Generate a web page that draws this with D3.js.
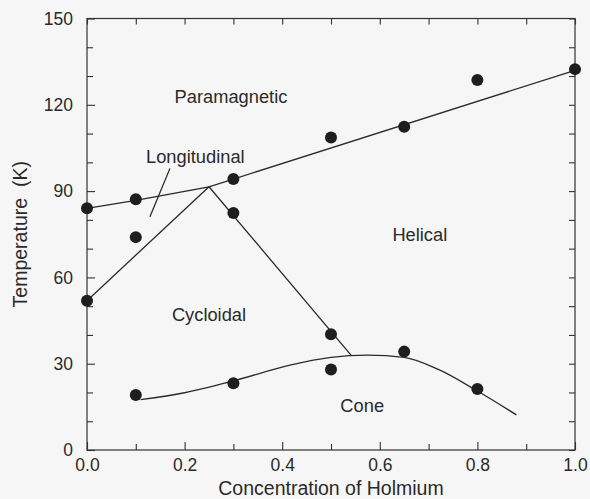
<!DOCTYPE html>
<html>
<head>
<meta charset="utf-8">
<script src="https://cdn.jsdelivr.net/npm/d3@7"></script>
<style>
  body { margin: 0; background: #f6f6f6; }
  svg { display: block; }
  text { font-family: "Liberation Sans", Arial, Helvetica, sans-serif; fill: #2a2a2a; }
  .axis path { display: none; }
  .axis line { stroke: #333; stroke-width: 1.1; }
  .axis text { font-size: 17.5px; }
</style>
</head>
<body>
<script>
//-----------------------------DATA------------------------------//
// measured transition temperatures (concentration, K)
const points = [
  [0.0, 84], [0.1, 87.2], [0.3, 94.2], [0.5, 108.6], [0.65, 112.4], [0.8, 128.6], [1.0, 132.4],
  [0.1, 74], [0.3, 82.4], [0.0, 51.9], [0.5, 40.2],
  [0.1, 19.1], [0.3, 23.2], [0.5, 28], [0.65, 34.2], [0.8, 21.2]
];
// phase boundary lines
const paraLine = [[0.0, 84], [0.1, 86.8], [0.25, 91.5], [1.0, 132]];
const cycloLine = [[0.0, 51.9], [0.25, 91.5], [0.541, 33]];
const coneLine = [[0.11, 17.5], [0.2, 19.9], [0.3, 24], [0.416, 29.5], [0.5, 32.2],
  [0.575, 33], [0.65, 32.2], [0.72, 28], [0.8, 20.5], [0.88, 12.2]];
const leader = [[0.170, 97.9], [0.129, 81.1]];
const phaseLabels = [
  { text: "Paramagnetic", x: 0.295, y: 120.6 },
  { text: "Longitudinal", x: 0.222, y: 99.8 },
  { text: "Helical", x: 0.682, y: 72.7 },
  { text: "Cycloidal", x: 0.25, y: 44.9 },
  { text: "Cone", x: 0.564, y: 13.3 }
];
const xMajor = [0, 0.2, 0.4, 0.6, 0.8, 1.0];
const xMinor = [0.1, 0.3, 0.5, 0.7, 0.9];
const yMajor = [0, 30, 60, 90, 120, 150];
const yMinor = [10, 20, 40, 50, 70, 80, 100, 110, 130, 140];

//----------------------------LAYOUT-----------------------------//
const W = 590, H = 499;
const margin = { left: 87, top: 18.5, right: 15, bottom: 49 };
const width = W - margin.left - margin.right;   // 488
const height = H - margin.top - margin.bottom;  // 431.5

const svg = d3.select("body").append("svg").attr("width", W).attr("height", H);
const g = svg.append("g").attr("transform", "translate(" + margin.left + "," + margin.top + ")");

const x = d3.scaleLinear().domain([0, 1]).range([0, width]);
const y = d3.scaleLinear().domain([0, 150]).range([height, 0]);

//-----------------------------AXES------------------------------//
g.append("g").attr("class", "axis").attr("transform", "translate(0," + height + ")")
  .call(d3.axisBottom(x).tickValues(xMajor).tickSize(-8).tickPadding(9).tickFormat(d3.format(".1f")));
g.append("g").attr("class", "axis").attr("transform", "translate(0," + height + ")")
  .call(d3.axisBottom(x).tickValues(xMinor).tickSize(-6).tickFormat(""));
g.append("g").attr("class", "axis")
  .call(d3.axisTop(x).tickValues(xMajor.concat(xMinor)).tickSize(-6).tickFormat(""));

g.append("g").attr("class", "axis")
  .call(d3.axisLeft(y).tickValues(yMajor).tickSize(-8).tickPadding(14).tickFormat(d3.format("d")));
g.append("g").attr("class", "axis")
  .call(d3.axisLeft(y).tickValues(yMinor).tickSize(-6).tickFormat(""));
g.append("g").attr("class", "axis").attr("transform", "translate(" + width + ",0)")
  .call(d3.axisRight(y).tickValues(yMajor.concat(yMinor)).tickSize(-6).tickFormat(""));

// frame
g.append("rect").attr("width", width).attr("height", height)
  .attr("fill", "none").attr("stroke", "#333").attr("stroke-width", 1.2);

// axis titles
svg.append("text").attr("x", margin.left + width / 2).attr("y", 495)
  .attr("text-anchor", "middle").style("font-size", "19.5px")
  .text("Concentration of Holmium");
svg.append("text").attr("transform", "translate(27," + (margin.top + height / 2) + ") rotate(-90)")
  .attr("text-anchor", "middle").style("font-size", "19.5px")
  .style("white-space", "pre").text("Temperature  (K)");

//----------------------------LINES------------------------------//
const straight = d3.line().x(d => x(d[0])).y(d => y(d[1]));
const smooth = d3.line().curve(d3.curveMonotoneX).x(d => x(d[0])).y(d => y(d[1]));

[paraLine, cycloLine, leader].forEach(function(l) {
  g.append("path").attr("d", straight(l)).attr("fill", "none")
    .attr("stroke", "#2a2a2a").attr("stroke-width", 1.3);
});
g.append("path").attr("d", smooth(coneLine)).attr("fill", "none")
  .attr("stroke", "#2a2a2a").attr("stroke-width", 1.3);

//----------------------------POINTS-----------------------------//
g.selectAll("circle.pt").data(points).enter().append("circle")
  .attr("class", "pt")
  .attr("cx", d => x(d[0])).attr("cy", d => y(d[1])).attr("r", 6)
  .attr("fill", "#1e1e1e");

//----------------------------LABELS-----------------------------//
g.selectAll("text.phase").data(phaseLabels).enter().append("text")
  .attr("class", "phase")
  .attr("x", d => x(d.x)).attr("y", d => y(d.y))
  .attr("text-anchor", "middle").style("font-size", "18.3px")
  .text(d => d.text);
</script>
</body>
</html>
